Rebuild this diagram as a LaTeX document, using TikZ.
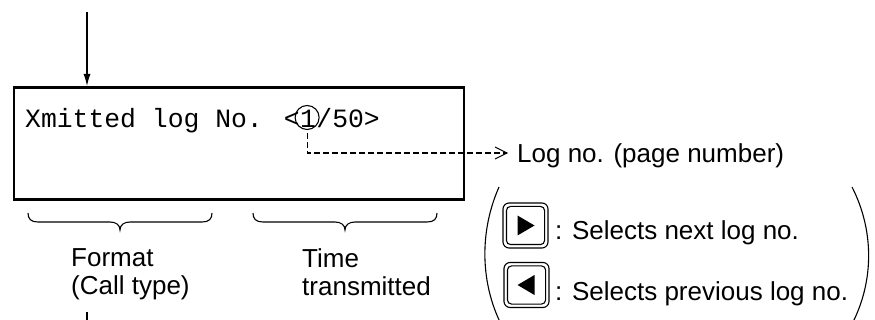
\documentclass[tikz,border=0pt]{standalone}
\usepackage{fontspec}
\setmainfont{Liberation Sans}
\newfontfamily\monofont{Liberation Mono}
\usetikzlibrary{arrows.meta}
\tikzset{
  ln/.style={line width=1.1pt},
  lbl/.style={inner sep=0pt, font=\fontsize{26}{28}\selectfont},
  mono/.style={inner sep=0pt, font=\monofont\fontsize{26.4}{30}\selectfont},
  twolbl/.style={lbl, align=left, anchor=north west},
  btn/.style={draw, ln, rounded corners=6pt, minimum width=45pt, minimum height=45pt, inner sep=0pt},
  dashline/.style={ln, dash pattern=on 5.5pt off 3.5pt},
}
\begin{document}
\begin{tikzpicture}[x=1pt,y=-1pt]
\useasboundingbox (0,0) rectangle (875,320);
% display box
\node[draw, line width=2.8pt, minimum width=450pt, minimum height=112pt, anchor=north west, inner sep=0pt] (disp) at (12.5,86) {};
\node[mono, anchor=base west] (msga) at (25,128) {Xmitted log No. <};
\node[mono, anchor=base west] (msgone) at (msga.base east) {1};
\node[mono, anchor=base west] (msgb) at (msgone.base east) {/50>};
\node[draw, ln, circle, minimum size=24pt, inner sep=0pt] (ring) at ([shift={(-1,-10.5)}]msgone.base) {};
% top arrow
\coordinate (topin) at (87,12);
\draw[ln, -{Latex[length=12pt,width=7pt]}] (topin) -- (topin |- disp.north);
% dashed pointer
\node[lbl, anchor=base west] (log) at (517,163) {Log no. (page number)};
\coordinate (logarr) at (507,153);
\draw[dashline] ([yshift=-3pt]ring.south) |- (logarr);
\draw[ln, line join=miter] ([shift={(-12,-6)}]logarr) -- (logarr) -- ([shift={(-12,6)}]logarr);
% braces
\draw[ln] (28,213) .. controls (28,219) and (31,222) .. (38,222) -- (110,222) .. controls (116,222) and (120,225) .. (120,230) .. controls (120,225) and (124,222) .. (130,222) -- (202,222) .. controls (209,222) and (212,219) .. (212,213);
\draw[ln] (253,213) .. controls (253,219) and (256,222) .. (263,222) -- (335,222) .. controls (341,222) and (345,225) .. (345,230) .. controls (345,225) and (349,222) .. (355,222) -- (427,222) .. controls (434,222) and (437,219) .. (437,213);
\node[twolbl] (fmt) at (71,248.4) {Format\\(Call type)};
\node[twolbl] (time) at (302,248.4) {Time\\transmitted};
% bottom tick
\coordinate (b1) at (87,312);
\coordinate (b2) at (87,321);
\draw[ln] (b1) -- (b2);
% parentheses
\draw[ln] (499,187) .. controls (480,230) and (480,280) .. (500,322);
\draw[ln] (852,187) .. controls (874,230) and (874,280) .. (853,322);
% buttons
\node[btn] (next) at (525.5,225.5) {};
\draw[ln, rounded corners=4pt] ([shift={(4,4)}]next.north west) rectangle ([shift={(-4,-4)}]next.south east);
\fill ([shift={(-8,-10)}]next.center) -- ([shift={(-8,10)}]next.center) -- ([shift={(9,0)}]next.center) -- cycle;
\node[btn] (prev) at (526.5,285) {};
\draw[ln, rounded corners=4pt] ([shift={(4,4)}]prev.north west) rectangle ([shift={(-4,-4)}]prev.south east);
\fill ([shift={(8,-10)}]prev.center) -- ([shift={(8,10)}]prev.center) -- ([shift={(-9,0)}]prev.center) -- cycle;
\node[lbl, anchor=base west] (nexttxt) at (555,240) {: Selects next log no.};
\node[lbl, anchor=base west] (prevtxt) at (555,300) {: Selects previous log no.};
\end{tikzpicture}
\end{document}
